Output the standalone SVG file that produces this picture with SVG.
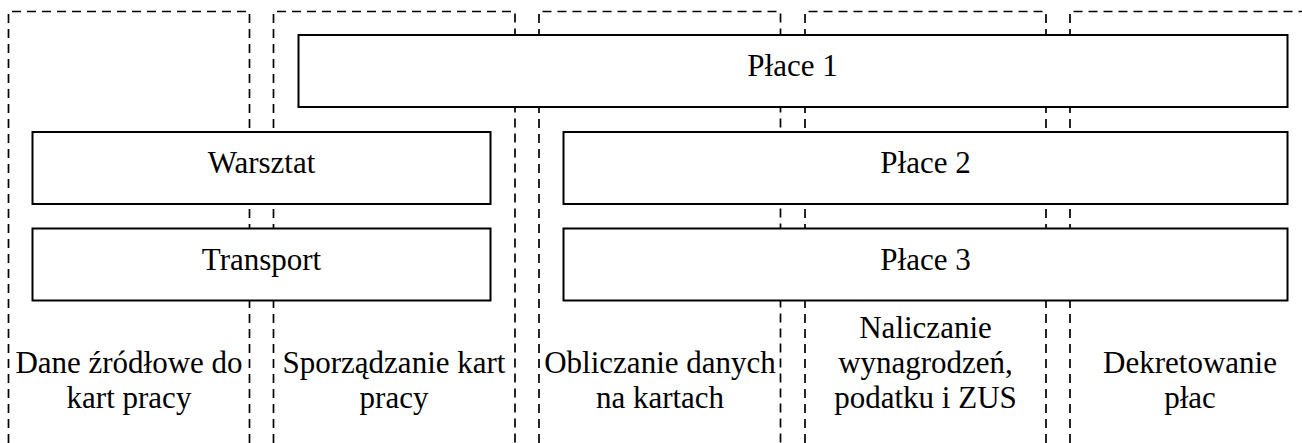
<svg xmlns="http://www.w3.org/2000/svg" width="1302" height="443" viewBox="0 0 1302 443">
<style>
.lane{fill:none;stroke:#000;stroke-width:1.7;stroke-dasharray:9 6}
.box{fill:#fff;stroke:#000;stroke-width:2}
.t{font-family:"Liberation Serif","Times New Roman",serif;font-size:31px;fill:#000;text-anchor:middle}
</style>
<rect x="0" y="0" width="1302" height="443" fill="#fff"/>
<g id="lanes">
<g id="lane1"><path class="lane" d="M8.5,443 V11.5 H249.5 V443"/>
<text class="t" x="129" y="373">Dane źródłowe do</text><text class="t" x="129" y="408">kart pracy</text></g>
<g id="lane2"><path class="lane" d="M273.5,443 V11.5 H515 V443"/>
<text class="t" x="394" y="373">Sporządzanie kart</text><text class="t" x="394" y="408">pracy</text></g>
<g id="lane3"><path class="lane" d="M539,443 V11.5 H780.5 V443"/>
<text class="t" x="660" y="373">Obliczanie danych</text><text class="t" x="660" y="408">na kartach</text></g>
<g id="lane4"><path class="lane" d="M805,443 V11.5 H1046 V443"/>
<text class="t" x="925.5" y="338">Naliczanie</text><text class="t" x="925.5" y="373">wynagrodzeń,</text><text class="t" x="925.5" y="408">podatku i ZUS</text></g>
<g id="lane5"><path class="lane" d="M1070,443 V11.5 H1302"/>
<text class="t" x="1190" y="373">Dekretowanie</text><text class="t" x="1190" y="408">płac</text></g>
</g>
<g id="connectors"></g>
<g id="place1"><rect class="box" x="298.5" y="35" width="989" height="72"/><text class="t" x="792.5" y="76">Płace 1</text></g>
<g id="warsztat"><rect class="box" x="32.5" y="132" width="458" height="72"/><text class="t" x="261.5" y="173">Warsztat</text></g>
<g id="transport"><rect class="box" x="32.5" y="228.5" width="458" height="72"/><text class="t" x="261.5" y="269.5">Transport</text></g>
<g id="place2"><rect class="box" x="563.5" y="132" width="724" height="72"/><text class="t" x="925.5" y="173">Płace 2</text></g>
<g id="place3"><rect class="box" x="563.5" y="228.5" width="724" height="72"/><text class="t" x="925.5" y="269.5">Płace 3</text></g>
</svg>
